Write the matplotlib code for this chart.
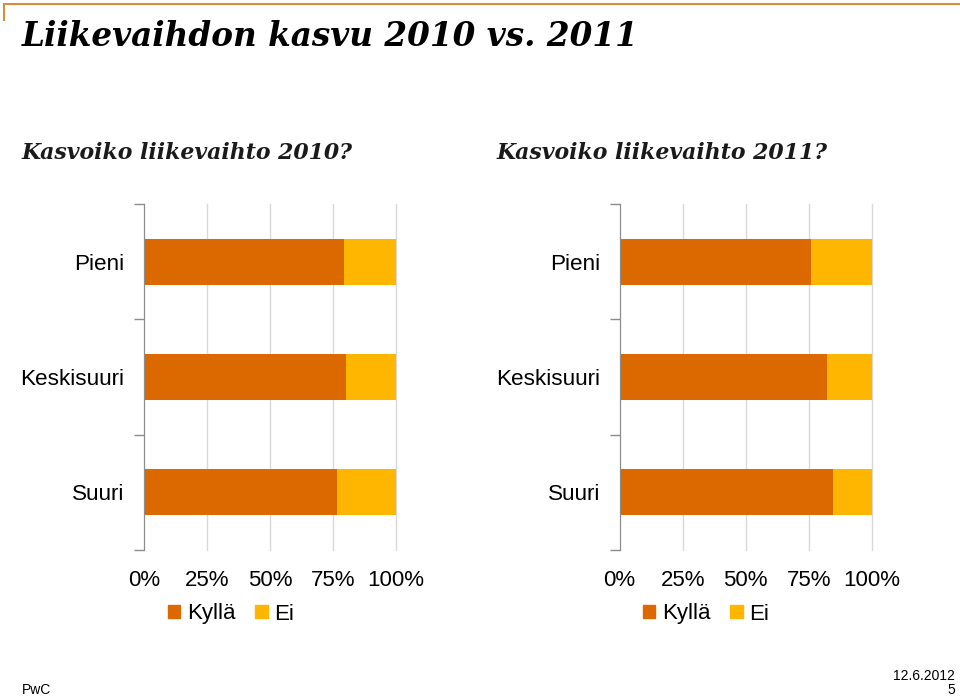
import matplotlib
matplotlib.use("Agg")
import matplotlib.pyplot as plt
from matplotlib.patches import Patch
from matplotlib.lines import Line2D

categories = ["Pieni", "Keskisuuri", "Suuri"]
kylla_2010 = [79.5, 80, 76.5]
kylla_2011 = [76, 82, 84.5]
ei_2010 = [100 - v for v in kylla_2010]
ei_2011 = [100 - v for v in kylla_2011]
xticks = [0, 25, 50, 75, 100]
xlabels = ["0%", "25%", "50%", "75%", "100%"]
series_names = ["Kyllä", "Ei"]

c_kylla = "#DC6900"
c_ei = "#FFB600"

plt.rcParams["font.family"] = ["Liberation Sans", "DejaVu Sans"]

W, H = 960, 697
fig = plt.figure(figsize=(W / 100, H / 100), dpi=100)


def px(x0, y0, x1, y1):
    return [x0 / W, 1 - y1 / H, (x1 - x0) / W, (y1 - y0) / H]


def draw(ax, kylla, ei):
    ypos = list(range(len(categories)))
    ax.barh(ypos, kylla, height=0.4, color=c_kylla, zorder=3)
    ax.barh(ypos, ei, left=kylla, height=0.4, color=c_ei, zorder=3)
    ax.set_xlim(0, 100)
    ax.set_ylim(len(categories) - 0.5, -0.5)
    ax.set_xticks(xticks)
    ax.set_xticklabels(xlabels, fontsize=16)
    ax.tick_params(axis="x", length=0, pad=14.5)
    ax.grid(axis="x", color="#D9D9D9", lw=1, zorder=0)
    for g in ax.xaxis.get_gridlines():
        g.set_clip_on(False)
    ax.set_yticks([-0.5, 0.5, 1.5, 2.5])
    ax.set_yticklabels([])
    ax.tick_params(axis="y", which="major", length=7, color="#8C8C8C", width=1)
    ax.set_yticks(ypos, minor=True)
    ax.set_yticklabels(categories, minor=True, fontsize=16.2)
    ax.tick_params(axis="y", which="minor", length=0, pad=14)
    for s in ["top", "right", "bottom"]:
        ax.spines[s].set_visible(False)
    ax.spines["left"].set_color("#8C8C8C")
    ax.spines["left"].set_zorder(4)


ax1 = fig.add_axes(px(144, 204, 396, 550))
draw(ax1, kylla_2010, ei_2010)
ax2 = fig.add_axes(px(619.5, 204, 872, 550))
draw(ax2, kylla_2011, ei_2011)

handles = [Patch(color=c_kylla), Patch(color=c_ei)]
for cx in [231, 706]:
    fig.legend(handles, series_names, loc="center", bbox_to_anchor=(cx / W, 1 - 614 / H),
               frameon=False, ncol=2, fontsize=16, handlelength=0.55, handleheight=0.55,
               handletextpad=0.3, columnspacing=0.9, borderpad=0)

# titles
fig.text(22 / W, 1 - 36 / H, "Liikevaihdon kasvu 2010 vs. 2011", family="DejaVu Serif",
         style="italic", weight="bold", fontsize=23.5, va="center", ha="left")
fig.text(22 / W, 1 - 153 / H, "Kasvoiko liikevaihto 2010?", family="DejaVu Serif",
         style="italic", weight="bold", fontsize=15.8, va="center", ha="left", color="#1a1a1a")
fig.text(497 / W, 1 - 153 / H, "Kasvoiko liikevaihto 2011?", family="DejaVu Serif",
         style="italic", weight="bold", fontsize=15.8, va="center", ha="left", color="#1a1a1a")

# top-left decoration
fig.add_artist(Line2D([4 / W, 1], [1 - 4 / H, 1 - 4 / H], color="#D4903F", lw=1.5))
fig.add_artist(Line2D([4 / W, 4 / W], [1 - 4 / H, 1 - 20 / H], color="#D4903F", lw=1.5))

# footer
fig.text(22 / W, 1 - 690 / H, "PwC", fontsize=10, va="center", ha="left")
fig.text(955 / W, 1 - 676 / H, "12.6.2012", fontsize=10, va="center", ha="right")
fig.text(955 / W, 1 - 690 / H, "5", fontsize=10, va="center", ha="right")

fig.savefig("out.png", dpi=100)
